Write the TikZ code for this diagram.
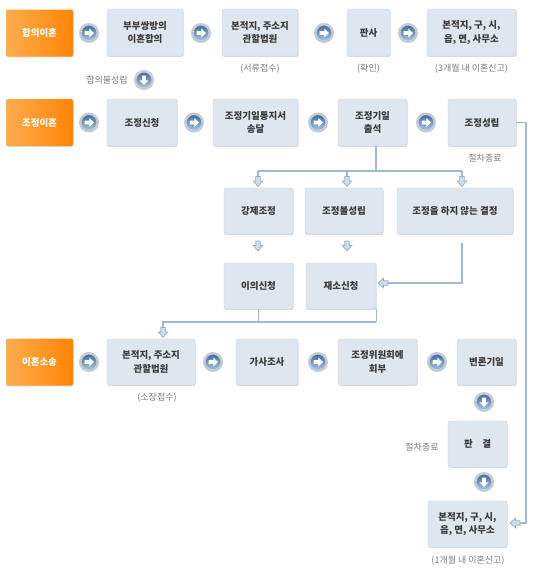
\documentclass[tikz,border=0pt]{standalone}
\usepackage{fontspec}
\setmainfont{Noto Sans CJK KR}
\usetikzlibrary{shadows,calc}
\definecolor{boxfill}{HTML}{DEE7EF}
\definecolor{boxline}{HTML}{C5D2DE}
\definecolor{txt}{HTML}{3A3A3A}
\definecolor{capc}{HTML}{7A7A7A}
\definecolor{connc}{HTML}{A3B9CF}
\definecolor{arrfill}{HTML}{D0DCE8}
\definecolor{arrline}{HTML}{95AEC7}
\definecolor{orA}{HTML}{FFAD4F}
\definecolor{orB}{HTML}{FF8406}
\definecolor{ringc}{HTML}{C3CCD6}
\definecolor{ballA}{HTML}{3D6896}
\definecolor{ballB}{HTML}{B0C9E0}
\tikzset{
  box/.style={draw=boxline, fill=boxfill, rounded corners=2pt, text=txt,
    font=\fontsize{9.5}{13.5}\selectfont\bfseries, align=center, inner sep=0pt,
    minimum height=47pt,
    drop shadow={shadow xshift=0.6pt, shadow yshift=-0.9pt, opacity=0.25, fill=black!60}},
  obox/.style={rounded corners=2pt, left color=orA, right color=orB, text=white,
    font=\fontsize{9.5}{13.5}\selectfont\bfseries, align=center, inner sep=0pt,
    minimum width=67pt, minimum height=47pt,
    drop shadow={shadow xshift=0.6pt, shadow yshift=-0.9pt, opacity=0.25, fill=black!60}},
  captxt/.style={text=capc, font=\fontsize{9}{10}\selectfont, inner sep=0pt},
  circbase/.style={circle, minimum size=17.5pt, inner sep=0pt, draw=ringc, line width=2.5pt,
    top color=ballA, bottom color=ballB},
  circ/.style={circbase,
    path picture={\fill[white, shift={(path picture bounding box.center)}]
      (-4.5pt,-1.8pt) -- (0.3pt,-1.8pt) -- (0.3pt,-4.6pt) -- (5pt,0pt) -- (0.3pt,4.6pt) -- (0.3pt,1.8pt) -- (-4.5pt,1.8pt) -- cycle;}},
  circd/.style={circbase,
    path picture={\fill[white, shift={(path picture bounding box.center)}]
      (-1.8pt,4.5pt) -- (-1.8pt,-0.3pt) -- (-4.6pt,-0.3pt) -- (0pt,-5pt) -- (4.6pt,-0.3pt) -- (1.8pt,-0.3pt) -- (1.8pt,4.5pt) -- cycle;}},
  conn/.style={draw=connc, line width=1.1pt},
  tipdown/.pic={\filldraw[fill=arrfill, draw=arrline, line width=0.7pt]
      (-2.2,-10) -- (2.2,-10) -- (2.2,-5.5) -- (4.8,-5.5) -- (0,0) -- (-4.8,-5.5) -- (-2.2,-5.5) -- cycle;},
}
\begin{document}
\begin{tikzpicture}[x=1pt, y=-1pt]
\useasboundingbox (0,0) rectangle (540,573);
% Row 1
\node[obox] (o1) at (39.5,33) {합의이혼};
\node[box, minimum width=76pt] (a1) at (145,32.5) {부부쌍방의\\이혼합의};
\node[box, minimum width=76pt] (a2) at (260,32.5) {본적지, 주소지\\관할법원};
\node[box, minimum width=43pt] (a3) at (368.5,32.5) {판사};
\node[box, minimum width=89pt] (a4) at (471.5,32.5) {본적지, 구, 시,\\읍, 면, 사무소};
\node[circ] (k1) at (89,33) {};
\node[circ] (k2) at (201,33) {};
\node[circ] (k3) at (324,33) {};
\node[circ] (k4) at (408,33) {};
\node[captxt] (t1) at (107,80) {합의불성립};
\node[circd] (k5) at (144,80) {};
\node[captxt] (t2) at (260,69) {(서류접수)};
\node[captxt] (t3) at (368.5,69) {(확인)};
\node[captxt] (t4) at (471.5,69) {(3개월 내 이혼신고)};
% Row 2
\node[obox] (o2) at (39.5,122.5) {조정이혼};
\node[box, minimum width=70pt] (b1) at (142,122.5) {조정신청};
\node[box, minimum width=85pt] (b2) at (255.5,122.5) {조정기일통지서\\송달};
\node[box, minimum width=69pt] (b3) at (372.5,122.5) {조정기일\\출석};
\node[box, minimum width=68pt] (b4) at (482,122.5) {조정성립};
\node[circ] (k6) at (89,122.5) {};
\node[circ] (k7) at (194,122.5) {};
\node[circ] (k8) at (318,122.5) {};
\node[circ] (k9) at (426,122.5) {};
\node[captxt] (t5) at (485,158) {절차종료};
% Row 3
\node[box, minimum width=69pt, minimum height=46pt] (c1) at (258.5,211) {강제조정};
\node[box, minimum width=78pt, minimum height=46pt] (c2) at (344,211) {조정불성립};
\node[box, minimum width=116pt, minimum height=46pt] (c3) at (455,211) {조정을 하지 않는 결정};
% Row 4
\node[box, minimum width=69pt, minimum height=46pt] (d1) at (258.5,286) {이의신청};
\node[box, minimum width=70pt, minimum height=46pt] (d2) at (341,286) {재소신청};
% Row 5
\node[obox] (o3) at (39.5,362) {이혼소송};
\node[box, minimum width=88pt, minimum height=46pt] (e1) at (151,362) {본적지, 주소지\\관할법원};
\node[box, minimum width=62pt, minimum height=46pt] (e2) at (267,362) {가사조사};
\node[box, minimum width=79pt, minimum height=46pt] (e3) at (377.5,362) {조정위원회에\\회부};
\node[box, minimum width=59pt, minimum height=46pt] (e4) at (486.5,362) {변론기일};
\node[circ] (k10) at (89,362) {};
\node[circ] (k11) at (213,362) {};
\node[circ] (k12) at (318,362) {};
\node[circ] (k13) at (437,362) {};
\node[captxt] (t6) at (157,398) {(소장접수)};
\node[circd] (k14) at (484,402) {};
% Row 6
\node[box, minimum width=59pt, minimum height=46pt] (f1) at (477.5,444) {판\hspace{1em}결};
\node[captxt] (t7) at (422,447) {절차종료};
\node[circd] (k15) at (484,482) {};
\node[box, minimum width=79pt, minimum height=46pt] (g1) at (467.5,524) {본적지, 구, 시,\\읍, 면, 사무소};
\node[captxt] (t8) at (468,561) {(1개월 내 이혼신고)};
% connectors
\coordinate (j1) at (376,171);
\coordinate (jl) at (258,171);
\coordinate (jr) at (462,171);
\draw[conn] (b3.south -| j1) -- (j1);
\draw[conn] (jl) -- (jr);
\draw[conn] (jl) -- ++(0,6);
\draw[conn] (347,171) -- ++(0,6);
\draw[conn] (jr) -- ++(0,6);
\pic at (258,186.5) {tipdown};
\pic at (347,186.5) {tipdown};
\pic at (462,186.5) {tipdown};
\pic at (258,251) {tipdown};
\pic at (347,251) {tipdown};
% c3 -> d2
\coordinate (m1) at (462,243);
\coordinate (m2) at (462,283);
\draw[conn] (m1) -- (m2) -- (388,283);
\pic[rotate=-90] at (378,283) {tipdown};
% d1,d2 -> e1
\coordinate (n1) at (163,322);
\draw[conn] (d1.south) -- (d1.south |- n1);
\draw[conn] (d2.south east) -- (d2.south east |- n1);
\draw[conn] (d2.south east |- n1) -- (n1) -- ++(0,6);
\pic at (163,337.5) {tipdown};
% b4 -> g1
\coordinate (r1) at (526,122.5);
\coordinate (r2) at (526,523);
\draw[conn] (b4.east) -- (r1) -- (r2) -- (520,523);
\pic[rotate=-90] at (510,523) {tipdown};
\end{tikzpicture}
\end{document}
